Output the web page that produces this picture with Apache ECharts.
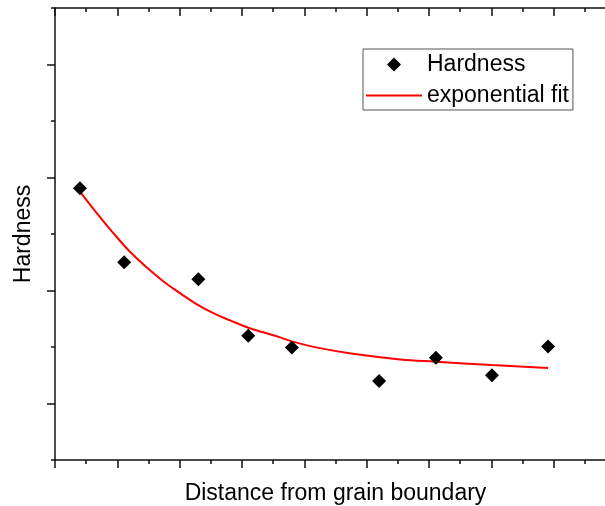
<!DOCTYPE html>
<html>
<head>
<meta charset="utf-8">
<script src="https://cdn.jsdelivr.net/npm/echarts@6/dist/echarts.min.js"></script>
<style>
  html, body { margin: 0; padding: 0; background: #fff; }
  #chart { width: 605px; height: 506px; }
</style>
</head>
<body>
<div id="chart"></div>
<script>
// Hardness measurements (axis units, no tick labels in original)
const hardnessX = [0.40, 1.11, 2.30, 3.10, 3.80, 5.20, 6.11, 7.01, 7.91];
const hardnessY = [4.81, 3.50, 3.20, 2.20, 1.99, 1.40, 1.81, 1.50, 2.01];

// Exponential fit curve
const fitX = [0.40, 0.67, 0.94, 1.20, 1.47, 1.74, 2.01, 2.27, 2.54, 2.81, 3.08, 3.34, 3.61, 3.80, 4.25, 4.78, 5.54, 6.11, 7.01, 7.91];
const fitY = [4.75, 4.37, 4.01, 3.69, 3.41, 3.16, 2.95, 2.76, 2.60, 2.47, 2.35, 2.26, 2.17, 2.10, 1.98, 1.88, 1.78, 1.74, 1.68, 1.63];

const legendNames = ['Hardness', 'exponential fit'];
const xTitle = 'Distance from grain boundary';
const yTitle = 'Hardness';

const FONT = "'Liberation Sans', Arial, sans-serif";
const axisColor = '#111';

const chart = echarts.init(document.getElementById('chart'), null, { renderer: 'canvas' });

const xCommon = {
  type: 'value', min: 0, max: 9, interval: 1,
  axisLabel: { show: false },
  splitLine: { show: false },
  axisLine: { show: true, onZero: false, lineStyle: { color: axisColor, width: 1.5 } },
  minorTick: { show: true, splitNumber: 2, length: 4, lineStyle: { color: axisColor, width: 1.5 } },
  minorSplitLine: { show: false }
};

chart.setOption({
  animation: false,
  backgroundColor: '#fff',
  grid: { left: 55, top: 8, width: 561, bottom: 46, containLabel: false, outerBoundsMode: 'none' },
  legend: {
    orient: 'vertical',
    left: 363, top: 49,
    itemWidth: 56, itemHeight: 14,
    itemGap: 8,
    padding: [4, 4, 3, 3],
    borderColor: '#555', borderWidth: 1,
    symbolKeepAspect: true,
    textStyle: { fontFamily: FONT, fontSize: 23, color: '#000' },
    data: [
      { name: legendNames[0], icon: 'path://M0,7 L0.01,7 M21,7 L28,0 L35,7 L28,14 Z M55.99,7 L56,7', itemStyle: { color: '#000', borderWidth: 0, opacity: 1 } },
      { name: legendNames[1], icon: 'path://M0,0 L0.01,0 M0,6 L56,6 L56,8 L0,8 Z M0,14 L0.01,14', itemStyle: { color: '#ff0000', borderWidth: 0, opacity: 1 } }
    ]
  },
  xAxis: [
    Object.assign({}, xCommon, {
      position: 'bottom',
      axisTick: { show: true, inside: false, length: 8, lineStyle: { color: axisColor, width: 1.5 } },
      name: xTitle, nameLocation: 'middle', nameGap: 22,
      nameTextStyle: { fontFamily: FONT, fontSize: 23, color: '#000' }
    }),
    Object.assign({}, xCommon, {
      position: 'top',
      axisTick: { show: true, inside: true, length: 8, lineStyle: { color: axisColor, width: 1.5 } }
    })
  ],
  yAxis: {
    type: 'value', min: 0, max: 8, interval: 2,
    position: 'left',
    axisLabel: { show: false },
    splitLine: { show: false },
    axisLine: { show: true, onZero: false, lineStyle: { color: axisColor, width: 1.5 } },
    axisTick: { show: true, inside: false, length: 4, lineStyle: { color: axisColor, width: 1.5 } },
    minorTick: { show: true, splitNumber: 2, length: 8, lineStyle: { color: axisColor, width: 1.5 } },
    name: yTitle, nameLocation: 'middle', nameGap: 20, nameRotate: 90,
    nameTextStyle: { fontFamily: FONT, fontSize: 23, color: '#000' }
  },
  series: [
    {
      name: legendNames[1], type: 'line', xAxisIndex: 0,
      data: fitX.map((x, i) => [x, fitY[i]]),
      smooth: 0.4, symbol: 'none', showSymbol: false,
      lineStyle: { color: '#ff0000', width: 2 },
      itemStyle: { color: '#ff0000' },
      z: 2
    },
    {
      name: legendNames[0], type: 'scatter', xAxisIndex: 0,
      data: hardnessX.map((x, i) => [x, hardnessY[i]]),
      symbol: 'diamond', symbolSize: 14,
      itemStyle: { color: '#000', opacity: 1 },
      z: 3
    }
  ]
});
</script>
</body>
</html>
